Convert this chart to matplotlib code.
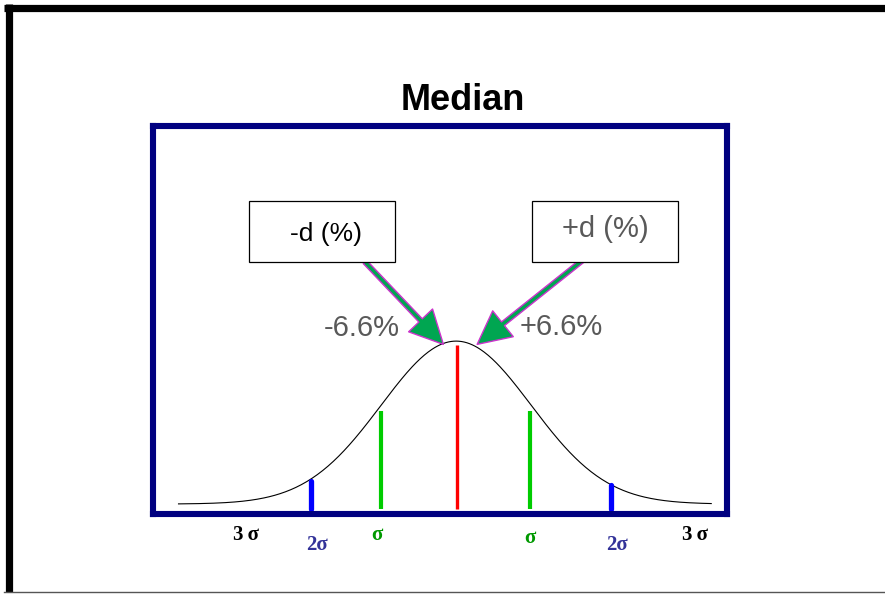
import numpy as np
import matplotlib
matplotlib.use('Agg')
import matplotlib.pyplot as plt
from matplotlib.patches import Rectangle
from matplotlib.lines import Line2D

plt.rcParams['font.family'] = ['Liberation Sans', 'DejaVu Sans']

# curve range (in sigma units) and marker lines
curve_range = [-3.7, 3.4]
marker_pos = [-1.93, -1.0, 0.01, 0.99, 2.07]
marker_top = [0.14, 0.57, 0.975, 0.57, 0.12]
marker_colors = ['#0000FF', '#00CC00', '#FF0000', '#00CC00', '#0000FF']
marker_widths = [3.8, 3.0, 2.4, 3.0, 3.8]
marker_bottom = -0.03

# sigma labels under the box
sig_labels = ['3\u2009\u03c3', '2\u03c3', '\u03c3', '\u03c3', '2\u03c3', '3\u2009\u03c3']
sig_x = [-2.8, -1.86, -1.06, 0.98, 2.14, 3.19]
sig_y = [-0.19, -0.25, -0.19, -0.21, -0.25, -0.19]
sig_colors = ['black', '#333399', '#009900', '#009900', '#333399', 'black']

pct_labels = ['-6.6%', '+6.6%']
box_labels = ['-d (%)', '+d (%)']

W, H = 885, 594
fig = plt.figure(figsize=(W / 100, H / 100), dpi=100)


def fx(px):
    return px / W


def fy(py):
    return 1 - py / H


# main axes = navy box
ax = fig.add_axes([fx(153), fy(514), fx(727) - fx(153), fy(126) - fy(514)])
ax.set_xlim(-4.04, 3.61)
ax.set_ylim(-0.061, 2.32)
ax.set_xticks([])
ax.set_yticks([])
for s in ax.spines.values():
    s.set_color('#000080')
    s.set_linewidth(4.4)

x = np.linspace(curve_range[0], curve_range[1], 400)
ax.plot(x, np.exp(-0.5 * x ** 2), color='black', lw=0.8)

for p, t, c, w in zip(marker_pos, marker_top, marker_colors, marker_widths):
    cap = 'round' if c == '#0000FF' else 'butt'
    ax.plot([p, p], [marker_bottom, t], color=c, lw=w, solid_capstyle=cap)

for lab, xx, yy, c in zip(sig_labels, sig_x, sig_y, sig_colors):
    ax.text(xx, yy, lab, color=c, fontsize=15, fontweight='bold',
            family=['Liberation Serif', 'DejaVu Serif'],
            ha='center', va='center', clip_on=False)

# outer frame
fig.add_artist(Line2D([fx(4), 1], [fy(7.5), fy(7.5)], color='black', lw=5.2,
                      transform=fig.transFigure, solid_capstyle='butt'))
fig.add_artist(Line2D([fx(8.5), fx(8.5)], [fy(4), fy(592)], color='black', lw=5.2,
                      transform=fig.transFigure, solid_capstyle='butt'))
fig.add_artist(Line2D([fx(4), 1], [fy(592), fy(592)], color='#555555', lw=1,
                      transform=fig.transFigure))

fig.text(fx(463), fy(100), 'Median', fontsize=26, fontweight='bold',
         ha='center', va='center')

# label boxes
for x0, lab, tx, ty, c, fs in [(249, box_labels[0], 326, 234, 'black', 19),
                               (532, box_labels[1], 605, 229, '#595959', 21)]:
    fig.add_artist(Rectangle((fx(x0), fy(262)), fx(146), fy(201) - fy(262),
                             transform=fig.transFigure, facecolor='white',
                             edgecolor='black', lw=0.9))
    fig.text(fx(tx), fy(ty), lab, color=c, fontsize=fs, ha='center', va='center')

fig.text(fx(362), fy(328), pct_labels[0], color='#595959', fontsize=21,
         ha='center', va='center')
fig.text(fx(561), fy(327), pct_labels[1], color='#595959', fontsize=21,
         ha='center', va='center')

# arrows from boxes to the curve peak
arrow_style = 'simple,head_length=1.4,head_width=1.4,tail_width=0.2'
for tip, start in [((-0.17, 0.98), (365, 262)), ((0.28, 0.98), (593, 252))]:
    ax.annotate('', xy=tip, xycoords='data',
                xytext=(fx(start[0]), fy(start[1])), textcoords='figure fraction',
                arrowprops=dict(arrowstyle=arrow_style, mutation_scale=17,
                                facecolor='#00A651', edgecolor='#CC33CC',
                                lw=1, shrinkA=0, shrinkB=0),
                annotation_clip=False)

fig.savefig('out.png', dpi=100)
